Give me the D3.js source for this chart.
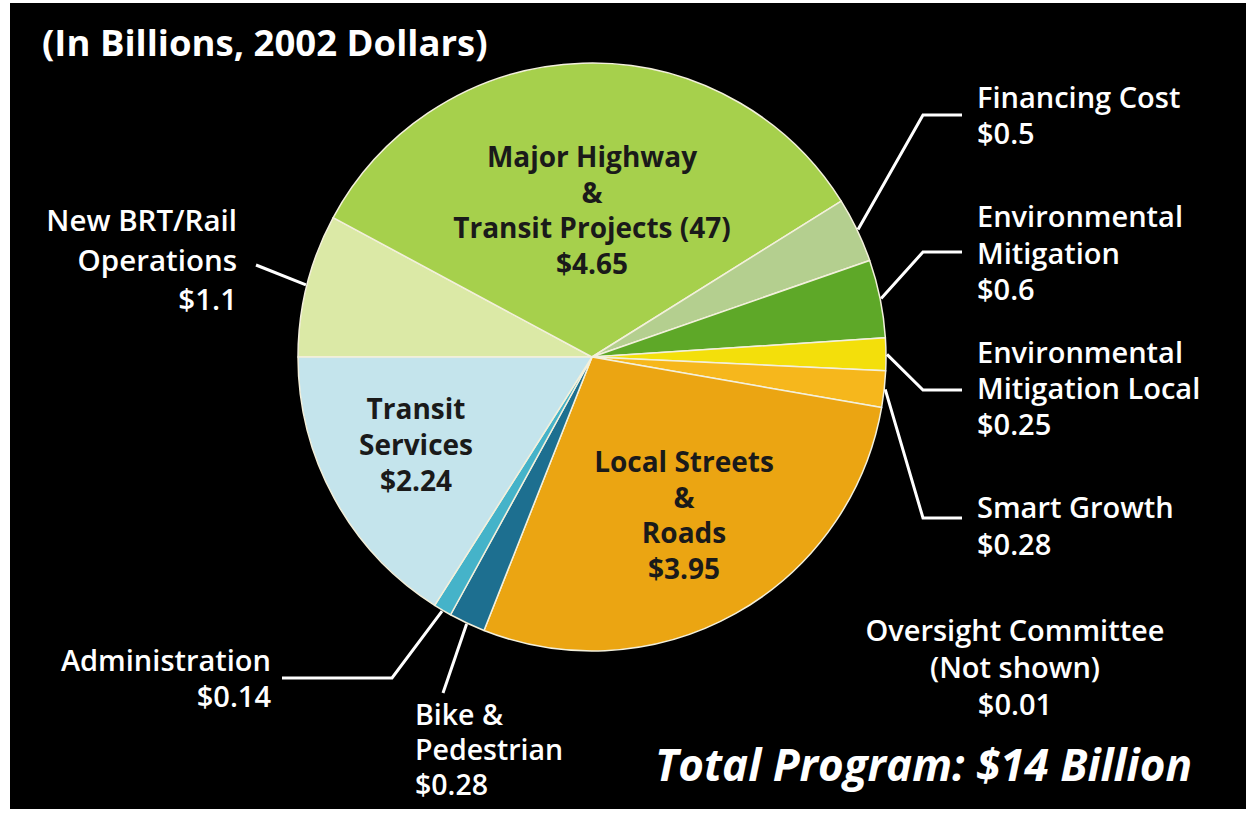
<!DOCTYPE html>
<html>
<head>
<meta charset="utf-8">
<script src="https://cdn.jsdelivr.net/npm/d3@7"></script>
<style>
  body { margin: 0; background: #fff; }
  text { font-family: "Open Sans", "Noto Sans", sans-serif; }
</style>
</head>
<body>
<div id="chart"></div>
<script>
var w = 1259;
var h = 815;

// data, clockwise starting at 9 o'clock
var categories = ["New BRT/Rail Operations", "Major Highway & Transit Projects (47)", "Financing Cost",
  "Environmental Mitigation", "Environmental Mitigation Local", "Smart Growth",
  "Local Streets & Roads", "Bike & Pedestrian", "Administration", "Transit Services"];
var values = [1.1, 4.65, 0.5, 0.6, 0.25, 0.28, 3.95, 0.28, 0.14, 2.24];
var valueLabels = ["$1.1", "$4.65", "$0.5", "$0.6", "$0.25", "$0.28", "$3.95", "$0.28", "$0.14", "$2.24"];
var labelLines = [["New BRT/Rail", "Operations"], ["Major Highway", "&", "Transit Projects (47)"], ["Financing Cost"],
  ["Environmental", "Mitigation"], ["Environmental", "Mitigation Local"], ["Smart Growth"],
  ["Local Streets", "&", "Roads"], ["Bike &", "Pedestrian"], ["Administration"], ["Transit", "Services"]];
var colors = ["#dbe9a6", "#a6d04c", "#b4cf8f", "#5ea828", "#f3df0b", "#f6b71c", "#eba512", "#1d6f90", "#45b3c9", "#c4e4ec"];

var otherLines = ["Oversight Committee", "(Not shown)"];
var otherValue = "$0.01";
var title = "(In Billions, 2002 Dollars)";
var total = "Total Program: $14 Billion";

// label layout
var layout = [
  {x: 237, y: 231, lh: 39.5, anchor: "end", fill: "#fff", size: 29.5, leader: [[256, 265]]},
  {x: 592, y: 167, lh: 35.5, anchor: "middle", fill: "#1a1a1a", size: 28},
  {x: 977, y: 108, lh: 36, anchor: "start", fill: "#fff", size: 29, leader: [[923, 115], [962, 115]]},
  {x: 977, y: 227, lh: 36.5, anchor: "start", fill: "#fff", size: 29, leader: [[923, 252], [962, 252]]},
  {x: 977, y: 363, lh: 36, anchor: "start", fill: "#fff", size: 29, leader: [[923, 390], [962, 390]]},
  {x: 977, y: 518, lh: 37, anchor: "start", fill: "#fff", size: 29, leader: [[923, 518], [962, 518]]},
  {x: 684, y: 472, lh: 35.5, anchor: "middle", fill: "#1a1a1a", size: 28},
  {x: 415, y: 725, lh: 35, anchor: "start", fill: "#fff", size: 28.5, leader: [[443, 693]]},
  {x: 271, y: 671, lh: 36, anchor: "end", fill: "#fff", size: 29, leader: [[392, 678], [282, 678]]},
  {x: 416, y: 419, lh: 36, anchor: "middle", fill: "#1a1a1a", size: 28}
];

var cx = 592, cy = 357, r = 294;

var svg = d3.select("#chart").append("svg").attr("width", w).attr("height", h);

svg.append("rect").attr("x", 10).attr("y", 3).attr("width", 1236).attr("height", 806).style("fill", "#000");

var pie = d3.pie().sort(null).startAngle(-Math.PI / 2).endAngle(Math.PI * 1.5);
var arcs = pie(values);
var arc = d3.arc().innerRadius(0).outerRadius(r);

var g = svg.append("g").attr("transform", "translate(" + cx + "," + cy + ")");

g.selectAll("path").data(arcs).enter().append("path")
  .attr("d", arc)
  .style("fill", function(d, i) { return colors[i]; })
  .style("stroke", "#f3f0dc")
  .style("stroke-width", 1.5)
  .style("stroke-linejoin", "round");

// leader lines
var lineGen = d3.line();
arcs.forEach(function(d, i) {
  var L = layout[i];
  if (!L.leader) return;
  var a = (d.startAngle + d.endAngle) / 2;
  var start = [cx + (r + 1) * Math.sin(a), cy - (r + 1) * Math.cos(a)];
  svg.append("path")
    .attr("d", lineGen([start].concat(L.leader)))
    .style("fill", "none")
    .style("stroke", "#fff")
    .style("stroke-width", 3);
});

// labels
arcs.forEach(function(d, i) {
  var L = layout[i];
  var lines = labelLines[i].concat([valueLabels[i]]);
  var t = svg.append("text")
    .attr("text-anchor", L.anchor)
    .attr("font-size", L.size + "px")
    .attr("font-weight", L.fill === "#fff" ? 600 : 700)
    .style("fill", L.fill);
  lines.forEach(function(s, j) {
    t.append("tspan").attr("x", L.x).attr("y", L.y + j * L.lh).text(s);
  });
});

var o = svg.append("text").attr("text-anchor", "middle").attr("font-size", "29px")
  .attr("font-weight", 600).style("fill", "#fff");
otherLines.concat([otherValue]).forEach(function(s, j) {
  o.append("tspan").attr("x", 1015).attr("y", 641 + j * 37).text(s);
});

svg.append("text").attr("x", 42).attr("y", 56).attr("font-size", "36.5px").attr("font-weight", 700)
  .style("fill", "#fff").text(title);

svg.append("text").attr("x", 1192).attr("y", 781).attr("text-anchor", "end")
  .attr("font-size", "44px").attr("font-weight", 700).attr("font-style", "italic")
  .style("fill", "#fff").text(total);
</script>
</body>
</html>
